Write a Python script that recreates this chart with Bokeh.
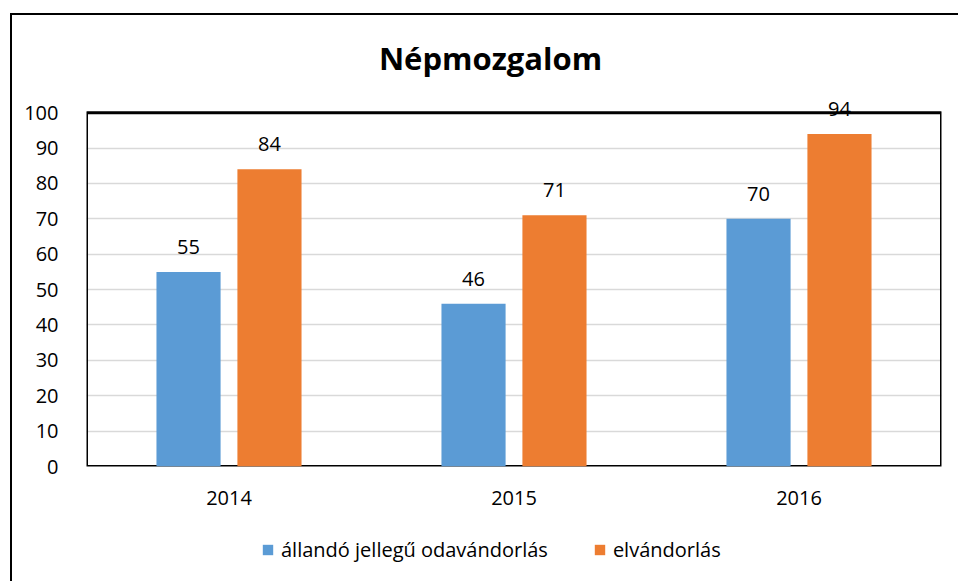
from bokeh.plotting import figure
from bokeh.models import (ColumnDataSource, Legend, LegendItem, LabelSet, Label, Range1d,
                          FixedTicker, BoxAnnotation)
from bokeh.layouts import column
from bokeh.transform import dodge
from bokeh.embed import file_html
from bokeh.resources import INLINE
from bokeh.core.properties import value

years = ["2014", "2015", "2016"]
odavandorlas = [55, 46, 70]
elvandorlas = [84, 71, 94]
series_names = ["állandó jellegű odavándorlás", "elvándorlás"]
y_ticks = [0, 10, 20, 30, 40, 50, 60, 70, 80, 90, 100]
title_text = "Népmozgalom"

BLUE = "#5B9BD5"
ORANGE = "#ED7D31"
FONT = "Open Sans"

src = ColumnDataSource(data=dict(
    years=years,
    oda=odavandorlas,
    elv=elvandorlas,
    oda_txt=[str(v) for v in odavandorlas],
    elv_txt=[str(v) for v in elvandorlas],
))

# ---- title strip ----
t = figure(width=946, height=76, x_range=Range1d(86, 941), y_range=Range1d(91, 15),
           output_backend="svg", toolbar_location=None, min_border=0,
           x_axis_location=None, y_axis_location=None)
t.outline_line_color = None
t.xgrid.grid_line_color = None
t.ygrid.grid_line_color = None
t.add_layout(Label(x=490, y=57, text=title_text, text_align="center", text_baseline="middle",
                   text_font=FONT, text_font_size="31px", text_font_style="bold",
                   text_color="#000000"))

# ---- main chart (frame extends a little above 100 so the "94" label is not clipped) ----
p = figure(x_range=years, y_range=Range1d(0, 106), width=946, height=429,
           output_backend="svg", toolbar_location=None,
           min_border_left=74, min_border_right=17, min_border_top=0, min_border_bottom=54)

r1 = p.vbar(x=dodge("years", -0.142, range=p.x_range), top="oda", width=0.225,
            source=src, color=BLUE, line_color=None)
r2 = p.vbar(x=dodge("years", 0.142, range=p.x_range), top="elv", width=0.225,
            source=src, color=ORANGE, line_color=None)

p.outline_line_color = None
p.add_layout(BoxAnnotation(bottom=0, top=100, fill_alpha=0, line_color="black",
                           line_width=3, line_alpha=1, level="underlay"))

for col, txt, off in (("oda", "oda_txt", -0.142), ("elv", "elv_txt", 0.142)):
    p.add_layout(LabelSet(x=dodge("years", off, range=p.x_range), y=col, text=txt, source=src,
                          text_align="center", text_baseline="bottom", y_offset=18,
                          text_font=value(FONT), text_font_size="20px", text_color="#000000"))

p.xgrid.grid_line_color = None
p.ygrid.grid_line_color = "#d9d9d9"
p.ygrid.grid_line_width = 1.5
p.yaxis.ticker = FixedTicker(ticks=y_ticks)

for ax in (p.xaxis, p.yaxis):
    ax.axis_line_color = None
    ax.major_tick_line_color = None
    ax.minor_tick_line_color = None
    ax.major_label_text_font = FONT
    ax.major_label_text_font_size = "20px"
    ax.major_label_text_color = "#000000"
p.yaxis.major_label_standoff = 22
p.xaxis.major_label_standoff = 18

# ---- legend strip (bars drawn off-view, only their legend glyphs show) ----
q = figure(width=946, height=61, x_range=p.x_range, y_range=Range1d(1000, 1001),
           output_backend="svg", toolbar_location=None, min_border=0,
           x_axis_location=None, y_axis_location=None)
q.outline_line_color = None
q.xgrid.grid_line_color = None
q.ygrid.grid_line_color = None
k1 = q.vbar(x="years", top="oda", width=0.1, source=src, color=BLUE, line_color=None)
k2 = q.vbar(x="years", top="elv", width=0.1, source=src, color=ORANGE, line_color=None)

legend = Legend(items=[LegendItem(label=series_names[0], renderers=[k1]),
                       LegendItem(label=series_names[1], renderers=[k2])],
                orientation="horizontal", location=(175, 18), padding=0, margin=0, spacing=45,
                glyph_width=13, glyph_height=13, label_standoff=7,
                label_text_font=FONT, label_text_font_size="20px", label_text_color="#000000",
                border_line_color=None, background_fill_alpha=0)
q.add_layout(legend)

layout = column(t, p, q, spacing=0)
layout.margin = (13, 0, 0, 10)
layout.styles = {"border-left": "2px solid black", "border-top": "2px solid black"}

open("out.html", "w").write(file_html(layout, INLINE))
